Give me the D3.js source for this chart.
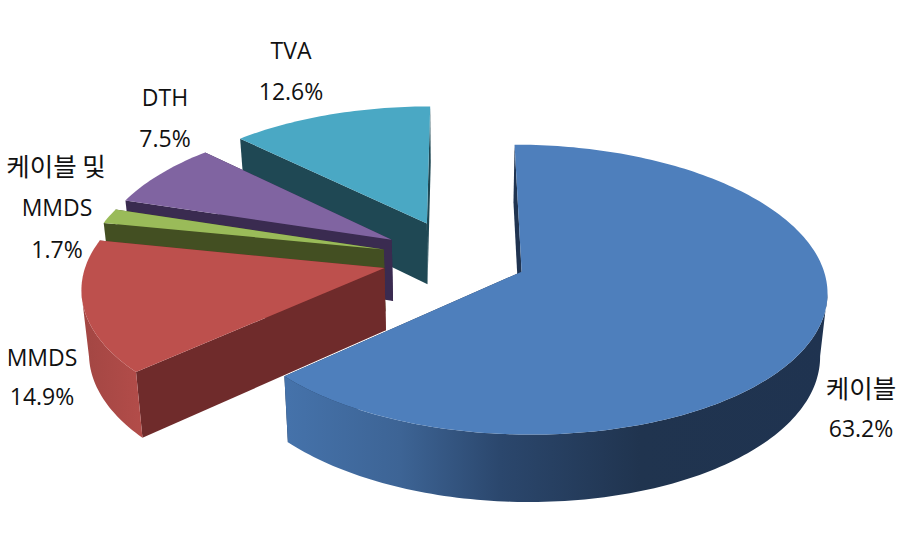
<!DOCTYPE html>
<html>
<head>
<meta charset="utf-8">
<script src="https://cdn.jsdelivr.net/npm/d3@7"></script>
<style>
html,body{margin:0;padding:0;background:#fff;}
svg{display:block;}
text{font-family:"Open Sans","Noto Sans CJK KR",sans-serif;font-size:23px;fill:#111;text-anchor:middle;}
text.hangul{font-family:"Noto Sans CJK KR",sans-serif;font-size:25.5px;}
</style>
</head>
<body>
<svg id="chart" width="910" height="534"></svg>
<script>
// Data
const categories = ["케이블", "MMDS", "케이블 및 MMDS", "DTH", "TVA"];
const shares = [63.2, 14.9, 1.7, 7.5, 12.6];
const shareLabels = ["63.2%", "14.9%", "1.7%", "7.5%", "12.6%"];

// Styles
const topColors = ["#4e7fbc", "#bd504d", "#9abb59", "#8064a1", "#4aa8c4"];
const cutColors = ["#1f3350", "#6f2b2b", "#434f22", "#3a2b50", "#1f4854"];
const wallStops = [
  [[288, "#4572aa"], [400, "#3d6495"], [500, "#2b476d"], [640, "#20344f"], [830, "#1f3350"]],
  [[80, "#a24643"], [140, "#b24c49"]],
  [[80, "#434f22"], [140, "#434f22"]],
  [[80, "#3a2b50"], [140, "#3a2b50"]],
  [[80, "#1f4854"], [140, "#1f4854"]]
];
// Text layout: [line, centre x, baseline y]
const labelLines = [
  [[categories[0], 861, 398], [shareLabels[0], 861, 437]],
  [[categories[1], 42, 366], [shareLabels[1], 42, 405]],
  [["케이블 및", 56, 176], ["MMDS", 57, 216], [shareLabels[2], 57, 258]],
  [[categories[3], 165, 106], [shareLabels[3], 165, 147]],
  [[categories[4], 291, 59], [shareLabels[4], 291, 100]]
];

// Projection of the tilted pie (perspective)
const view = {cx: 458, cy: 258.5, B: 299, leftScale: 0.993, A: 139.5, p: 0.1226, depth: 62, shrink: 0.02};
const explode = [0.23, 0.255, 0.26, 0.265, 0.28];
function project(u, v, z) {
  const w = 1 - view.p * v;
  const b = u < 0 ? view.B * view.leftScale : view.B;
  return [
    view.cx + b * u / w * (1 - view.shrink * z),
    view.cy + view.A * v / w + z * view.depth * (1 + 0.08 * v)
  ];
}

const svg = d3.select("#chart");
const defs = svg.append("defs");
const line = d3.line();
const arcs = d3.pie().sort(null).value(d => d)
  .startAngle(0).endAngle(2 * Math.PI)(shares);

function rimAngles(a) {
  const n = Math.max(4, Math.ceil((a.endAngle - a.startAngle) / 0.02));
  return d3.range(n + 1).map(i => a.startAngle + (a.endAngle - a.startAngle) * i / n);
}

// Paint from the back slice to the front slice
d3.range(arcs.length).reverse().forEach(i => {
  const a = arcs[i];
  const mid = (a.startAngle + a.endAngle) / 2;
  const ou = explode[i] * Math.sin(mid), ov = -explode[i] * Math.cos(mid);
  const P = (t, r, z) => project(ou + r * Math.sin(t), ov - r * Math.cos(t), z);
  const g = svg.append("g").attr("class", "slice");

  const grad = defs.append("linearGradient").attr("id", "wall" + i)
    .attr("gradientUnits", "userSpaceOnUse")
    .attr("x1", wallStops[i][0][0]).attr("x2", wallStops[i][wallStops[i].length - 1][0])
    .attr("y1", 0).attr("y2", 0);
  const x0 = wallStops[i][0][0], x1 = wallStops[i][wallStops[i].length - 1][0];
  wallStops[i].forEach(s => grad.append("stop")
    .attr("offset", (s[0] - x0) / (x1 - x0)).attr("stop-color", s[1]));

  const ts = rimAngles(a);
  // cut faces
  [a.endAngle, a.startAngle].forEach(t => {
    g.append("path")
      .attr("d", line([P(t, 0, 0), P(t, 1, 0), P(t, 1, 1), P(t, 0, 1)]) + "Z")
      .attr("fill", cutColors[i]);
  });
  // outer wall: only the part of the rim that faces the viewer
  const front = ts.filter((t, k) => {
    const n = k < ts.length - 1 ? ts[k + 1] : t;
    const p = k < ts.length - 1 ? t : ts[k - 1];
    return P(n, 1, 0)[0] - P(p, 1, 0)[0] < 0;
  });
  if (front.length > 1) {
    g.append("path")
      .attr("d", line(front.map(t => P(t, 1, 0)).concat(front.slice().reverse().map(t => P(t, 1, 1)))) + "Z")
      .attr("fill", `url(#wall${i})`);
  }
  // top face
  g.append("path")
    .attr("d", line([P(0, 0, 0)].concat(ts.map(t => P(t, 1, 0)))) + "Z")
    .attr("fill", topColors[i]);
});

// Labels
labelLines.forEach(lines => lines.forEach(l => {
  svg.append("text").attr("x", l[1]).attr("y", l[2])
    .classed("hangul", /[가-힣]/.test(l[0])).text(l[0]);
}));
</script>
</body>
</html>
